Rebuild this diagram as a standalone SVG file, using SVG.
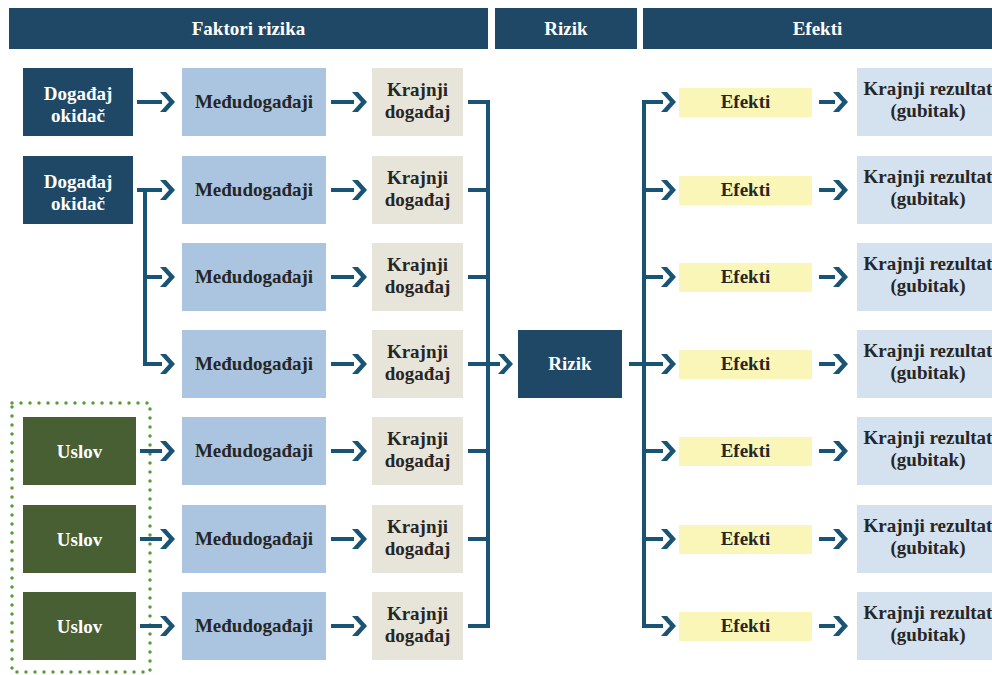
<svg xmlns="http://www.w3.org/2000/svg" xmlns:xlink="http://www.w3.org/1999/xlink" width="992" height="675" viewBox="0 0 992 675">
<style>
.t{font-family:"Liberation Serif","Times New Roman",serif;font-weight:bold;font-size:19px;text-anchor:middle}
.w{fill:#ffffff}
.d{fill:#262626}
.navy{fill:#1e4866}
.med{fill:#abc5e0}
.kraj{fill:#e7e5da}
.ef{fill:#faf6b8}
.rez{fill:#d4e1ee}
.us{fill:#475f33}
.ln{fill:none;stroke:#1a5474;stroke-width:4}
.ch{fill:#1a5474}
</style>
<defs>
<polygon id="chev" points="0,-10 6,-10 15,0 6,10 0,10 9,0"/>
</defs>
<rect width="992" height="675" fill="#ffffff"/>
<g id="headers">
<rect class="navy" x="9" y="8" width="479" height="41"/>
<text class="t w" x="248.5" y="35">Faktori rizika</text>
<rect class="navy" x="495" y="8" width="142" height="41"/>
<text class="t w" x="566" y="35">Rizik</text>
<rect class="navy" x="643" y="8" width="349" height="41"/>
<text class="t w" x="817.5" y="35">Efekti</text>
</g>
<g id="uslov-group">
<rect x="12" y="403" width="138" height="269" fill="none" stroke="#5a9b3c" stroke-width="3.5" stroke-dasharray="0 9" stroke-linecap="round"/>
</g>
<g id="connectors">
<path class="ln" d="M137,102 H162"/>
<path class="ln" d="M137,190 H162 M145,190 V364 H162 M145,277 H162"/>
<path class="ln" d="M140,451 H162 M140,539 H162 M140,626 H162"/>
<path class="ln" d="M331,102 H354 M331,190 H354 M331,277 H354 M331,364 H354 M331,451 H354 M331,539 H354 M331,626 H354"/>
<path class="ln" d="M468,102 H488 V626 H468 M468,190 H488 M468,277 H488 M468,364 H500 M468,451 H488 M468,539 H488"/>
<path class="ln" d="M629,364 H663 M663,102 H644 V626 H663 M644,190 H663 M644,277 H663 M644,451 H663 M644,539 H663"/>
<path class="ln" d="M819,102 H835 M819,190 H835 M819,277 H835 M819,364 H835 M819,451 H835 M819,539 H835 M819,626 H835"/>
<g class="ch">
<use xlink:href="#chev" x="160" y="102"/>
<use xlink:href="#chev" x="160" y="190"/>
<use xlink:href="#chev" x="160" y="277"/>
<use xlink:href="#chev" x="160" y="364"/>
<use xlink:href="#chev" x="160" y="451"/>
<use xlink:href="#chev" x="160" y="539"/>
<use xlink:href="#chev" x="160" y="626"/>
<use xlink:href="#chev" x="352" y="102"/>
<use xlink:href="#chev" x="352" y="190"/>
<use xlink:href="#chev" x="352" y="277"/>
<use xlink:href="#chev" x="352" y="364"/>
<use xlink:href="#chev" x="352" y="451"/>
<use xlink:href="#chev" x="352" y="539"/>
<use xlink:href="#chev" x="352" y="626"/>
<use xlink:href="#chev" x="498" y="364"/>
<use xlink:href="#chev" x="661" y="102"/>
<use xlink:href="#chev" x="661" y="190"/>
<use xlink:href="#chev" x="661" y="277"/>
<use xlink:href="#chev" x="661" y="364"/>
<use xlink:href="#chev" x="661" y="451"/>
<use xlink:href="#chev" x="661" y="539"/>
<use xlink:href="#chev" x="661" y="626"/>
<use xlink:href="#chev" x="833" y="102"/>
<use xlink:href="#chev" x="833" y="190"/>
<use xlink:href="#chev" x="833" y="277"/>
<use xlink:href="#chev" x="833" y="364"/>
<use xlink:href="#chev" x="833" y="451"/>
<use xlink:href="#chev" x="833" y="539"/>
<use xlink:href="#chev" x="833" y="626"/>
</g>
</g>
<g id="okidac1"><rect class="navy" x="23" y="68" width="110" height="68"/><text class="t w" x="78" y="100">Događaj</text><text class="t w" x="78" y="122">okidač</text></g>
<g id="okidac2"><rect class="navy" x="23" y="156" width="110" height="68"/><text class="t w" x="78" y="188">Događaj</text><text class="t w" x="78" y="210">okidač</text></g>
<g id="uslov1"><rect class="us" x="23" y="417" width="113" height="68"/><text class="t w" x="79.5" y="458">Uslov</text></g>
<g id="uslov2"><rect class="us" x="23" y="505" width="113" height="68"/><text class="t w" x="79.5" y="546">Uslov</text></g>
<g id="uslov3"><rect class="us" x="23" y="592" width="113" height="68"/><text class="t w" x="79.5" y="633">Uslov</text></g>
<g id="med1"><rect class="med" x="182" y="68" width="144" height="68"/><text class="t d" x="254" y="108">Međudogađaji</text></g>
<g id="med2"><rect class="med" x="182" y="156" width="144" height="68"/><text class="t d" x="254" y="196">Međudogađaji</text></g>
<g id="med3"><rect class="med" x="182" y="243" width="144" height="68"/><text class="t d" x="254" y="283">Međudogađaji</text></g>
<g id="med4"><rect class="med" x="182" y="330" width="144" height="68"/><text class="t d" x="254" y="370">Međudogađaji</text></g>
<g id="med5"><rect class="med" x="182" y="417" width="144" height="68"/><text class="t d" x="254" y="457">Međudogađaji</text></g>
<g id="med6"><rect class="med" x="182" y="505" width="144" height="68"/><text class="t d" x="254" y="545">Međudogađaji</text></g>
<g id="med7"><rect class="med" x="182" y="592" width="144" height="68"/><text class="t d" x="254" y="632">Međudogađaji</text></g>
<g id="kraj1"><rect class="kraj" x="372" y="68" width="91" height="68"/><text class="t d" x="417.5" y="96">Krajnji</text><text class="t d" x="417.5" y="118">događaj</text></g>
<g id="kraj2"><rect class="kraj" x="372" y="156" width="91" height="68"/><text class="t d" x="417.5" y="184">Krajnji</text><text class="t d" x="417.5" y="206">događaj</text></g>
<g id="kraj3"><rect class="kraj" x="372" y="243" width="91" height="68"/><text class="t d" x="417.5" y="271">Krajnji</text><text class="t d" x="417.5" y="293">događaj</text></g>
<g id="kraj4"><rect class="kraj" x="372" y="330" width="91" height="68"/><text class="t d" x="417.5" y="358">Krajnji</text><text class="t d" x="417.5" y="380">događaj</text></g>
<g id="kraj5"><rect class="kraj" x="372" y="417" width="91" height="68"/><text class="t d" x="417.5" y="445">Krajnji</text><text class="t d" x="417.5" y="467">događaj</text></g>
<g id="kraj6"><rect class="kraj" x="372" y="505" width="91" height="68"/><text class="t d" x="417.5" y="533">Krajnji</text><text class="t d" x="417.5" y="555">događaj</text></g>
<g id="kraj7"><rect class="kraj" x="372" y="592" width="91" height="68"/><text class="t d" x="417.5" y="620">Krajnji</text><text class="t d" x="417.5" y="642">događaj</text></g>
<g id="rizik"><rect class="navy" x="518" y="330" width="104" height="68"/><text class="t w" x="570" y="370">Rizik</text></g>
<g id="ef1"><rect class="ef" x="679" y="88" width="133" height="29"/><text class="t d" x="745.5" y="108">Efekti</text></g>
<g id="ef2"><rect class="ef" x="679" y="176" width="133" height="29"/><text class="t d" x="745.5" y="196">Efekti</text></g>
<g id="ef3"><rect class="ef" x="679" y="263" width="133" height="29"/><text class="t d" x="745.5" y="283">Efekti</text></g>
<g id="ef4"><rect class="ef" x="679" y="350" width="133" height="29"/><text class="t d" x="745.5" y="370">Efekti</text></g>
<g id="ef5"><rect class="ef" x="679" y="437" width="133" height="29"/><text class="t d" x="745.5" y="457">Efekti</text></g>
<g id="ef6"><rect class="ef" x="679" y="525" width="133" height="29"/><text class="t d" x="745.5" y="545">Efekti</text></g>
<g id="ef7"><rect class="ef" x="679" y="612" width="133" height="29"/><text class="t d" x="745.5" y="632">Efekti</text></g>
<g id="rez1"><rect class="rez" x="857" y="68" width="140" height="68"/><text class="t d" x="928" y="95">Krajnji rezultat</text><text class="t d" x="928" y="117">(gubitak)</text></g>
<g id="rez2"><rect class="rez" x="857" y="156" width="140" height="68"/><text class="t d" x="928" y="183">Krajnji rezultat</text><text class="t d" x="928" y="205">(gubitak)</text></g>
<g id="rez3"><rect class="rez" x="857" y="243" width="140" height="68"/><text class="t d" x="928" y="270">Krajnji rezultat</text><text class="t d" x="928" y="292">(gubitak)</text></g>
<g id="rez4"><rect class="rez" x="857" y="330" width="140" height="68"/><text class="t d" x="928" y="357">Krajnji rezultat</text><text class="t d" x="928" y="379">(gubitak)</text></g>
<g id="rez5"><rect class="rez" x="857" y="417" width="140" height="68"/><text class="t d" x="928" y="444">Krajnji rezultat</text><text class="t d" x="928" y="466">(gubitak)</text></g>
<g id="rez6"><rect class="rez" x="857" y="505" width="140" height="68"/><text class="t d" x="928" y="532">Krajnji rezultat</text><text class="t d" x="928" y="554">(gubitak)</text></g>
<g id="rez7"><rect class="rez" x="857" y="592" width="140" height="68"/><text class="t d" x="928" y="619">Krajnji rezultat</text><text class="t d" x="928" y="641">(gubitak)</text></g>
</svg>
